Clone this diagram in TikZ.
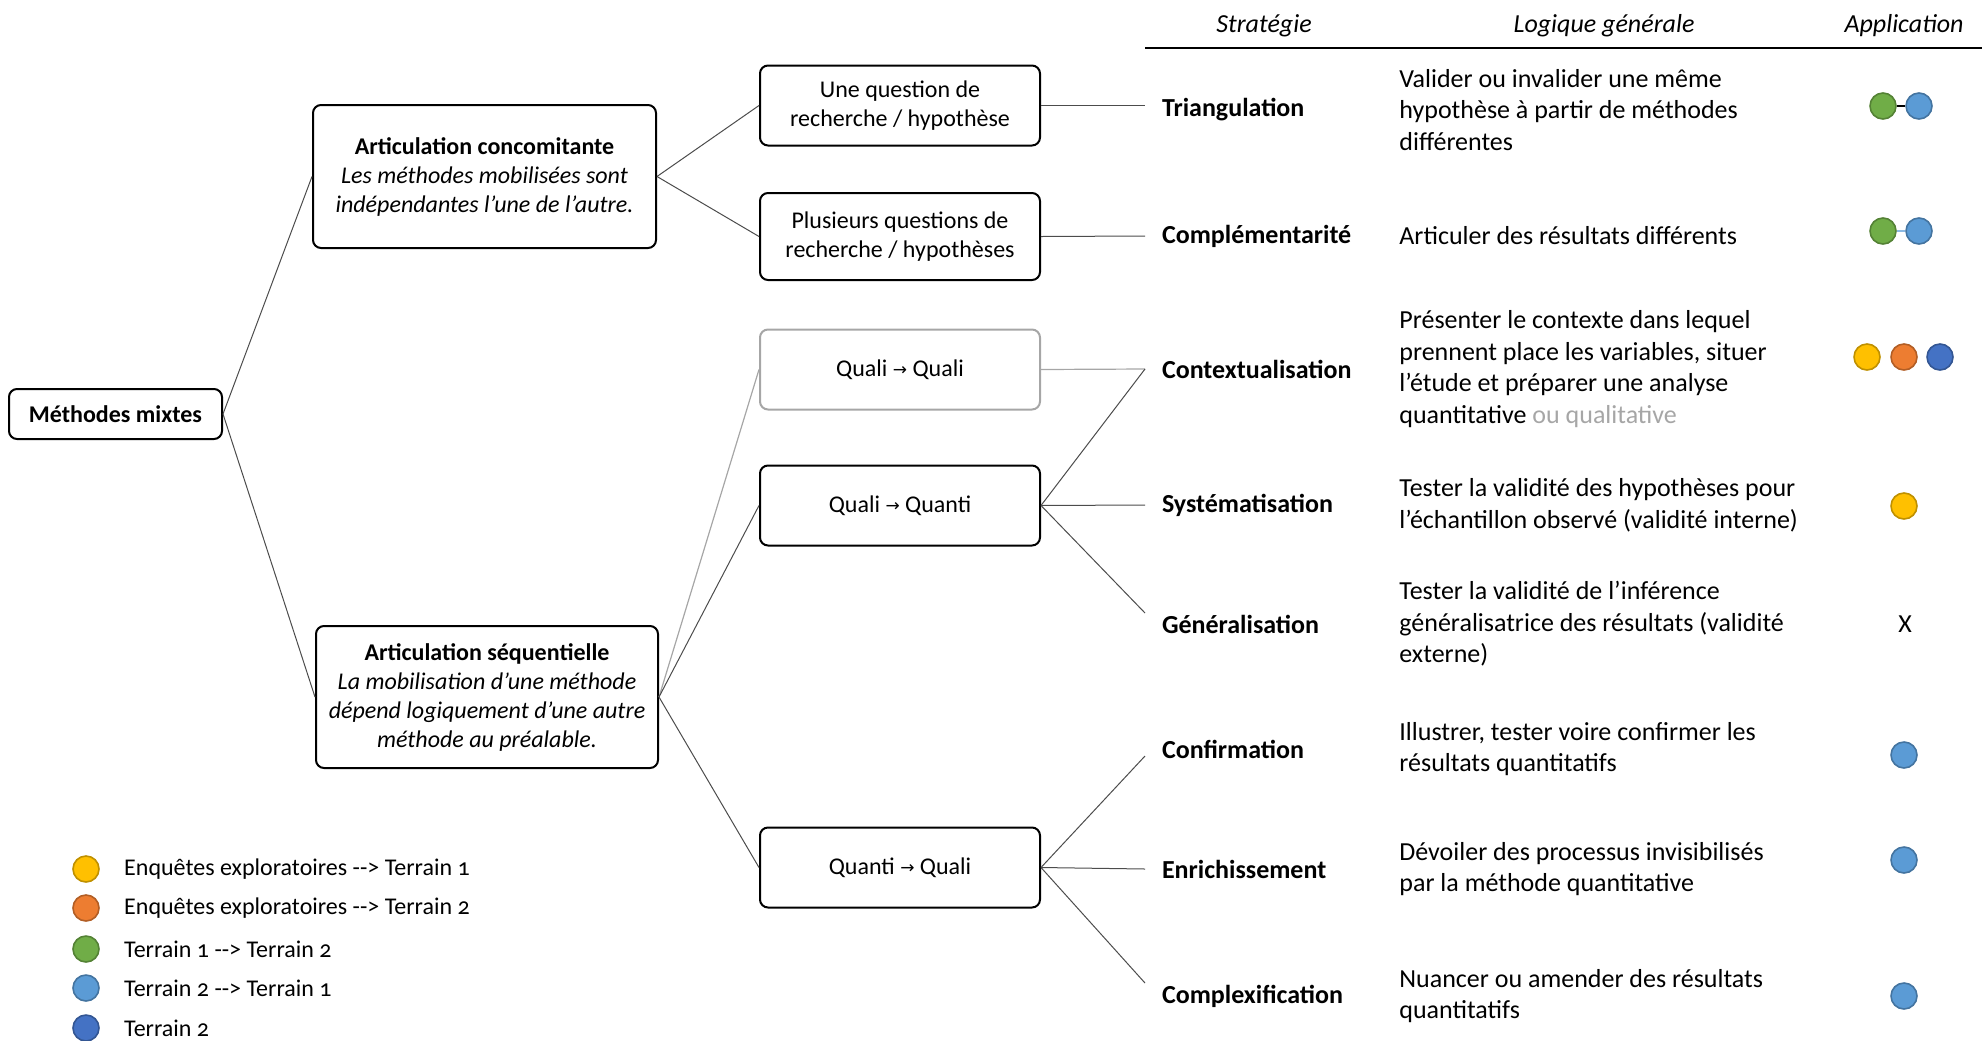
\documentclass[tikz,border=0pt]{standalone}
\usepackage{fontspec}
\setmainfont{Carlito}
\newfontfamily\fleche{DejaVu Sans}
\usetikzlibrary{positioning}

\definecolor{jaune}{HTML}{FFC000}
\definecolor{orange}{HTML}{ED7D31}
\definecolor{vert}{HTML}{70AD47}
\definecolor{bleuclair}{HTML}{5B9BD5}
\definecolor{bleufonce}{HTML}{4472C4}
\definecolor{gris}{HTML}{A6A6A6}

\newcommand{\versfl}{{\fleche\fontsize{8.5}{8.5}\selectfont\raisebox{0.6pt}{→}}}

\begin{document}
\begin{tikzpicture}[x=0.5pt, y=-0.5pt,
    boite/.style={draw, rounded corners=4pt, line width=1pt, align=center,
        minimum width=140pt, minimum height=40pt, inner sep=0pt,
        font=\fontsize{12}{14.5}\selectfont},
    strat/.style={anchor=west, inner xsep=8.5pt, inner ysep=0pt, outer sep=0pt,
        font=\fontsize{13}{15.8}\selectfont\bfseries},
    desc/.style={anchor=west, align=left, inner sep=0pt,
        font=\fontsize{13}{15.8}\selectfont},
    tete/.style={font=\fontsize{13}{15.8}\selectfont\itshape},
    lien/.style={draw=black!70, line width=0.5pt},
    lienclair/.style={draw=gris, line width=0.6pt},
    pastille/.style={circle, minimum size=13pt, inner sep=0pt, line width=0.8pt},
    legtxt/.style={inner sep=0pt, font=\fontsize{12}{14.5}\selectfont\addfontfeature{Numbers=OldStyle}}]

    \useasboundingbox (0,0) rectangle (1982,1040);

    % arbre
    \node[boite, minimum width=106.5pt, minimum height=25pt, font=\fontsize{12}{14.5}\selectfont\bfseries] (mm) at (115.5,414) {Méthodes mixtes};
    \node[boite, minimum width=171.5pt, minimum height=71.5pt] (conc) at (484.5,176.5)
        {\textbf{Articulation concomitante}\\\textit{Les méthodes mobilisées sont}\\\textit{indépendantes l'une de l'autre.}};
    \node[boite, minimum width=171pt, minimum height=71pt] (seq) at (487,697)
        {\textbf{Articulation séquentielle}\\\textit{La mobilisation d'une méthode}\\\textit{dépend logiquement d'une autre}\\\textit{méthode au préalable.}};

    \node[boite] (q1) at (900,105.5) {Une question de\\recherche / hypothèse};
    \node[boite, minimum height=43.5pt] (q2) at (900,236.5) {Plusieurs questions de\\recherche / hypothèses};
    \node[boite, draw=gris] (qq) at (900,369.5) {Quali \versfl\ Quali};
    \node[boite] (qn) at (900,505.5) {Quali \versfl\ Quanti};
    \node[boite] (nq) at (900,867.5) {Quanti \versfl\ Quali};

    % en-tete du tableau
    \node[tete] (hStrat) at (1264,26) {Stratégie};
    \node[tete] (hLog) at (1604,26) {Logique générale};
    \node[tete] (hApp) at (1904,26) {Application};
    \draw[line width=1pt] (1145,48) -- (1982,48);

    % strategies
    \node[strat] (triang) at (1145,110) {Triangulation};
    \node[strat] (compl) at (1145,236) {Complémentarité};
    \node[strat] (contx) at (1145,369) {Contextualisation};
    \node[strat] (syst) at (1145,505) {Systématisation};
    \node[strat] (gener) at (1145,624) {Généralisation};
    \node[strat] (confi) at (1145,749) {Confirmation};
    \node[strat] (enrich) at (1145,869) {Enrichissement};
    \node[strat] (cplx) at (1145,996) {Complexification};
    \coordinate (genEnd) at (1145,613);
    \coordinate (confEnd) at (1145,756);
    \coordinate (cplxEnd) at (1145,983);

    % logique generale
    \node[desc] (dTri) at (1399,110) {Valider ou invalider une même\\hypothèse à partir de méthodes\\différentes};
    \node[desc] (dComp) at (1399,236) {Articuler des résultats différents};
    \node[desc] (dCont) at (1399,369) {Présenter le contexte dans lequel\\prennent place les variables, situer\\l'étude et préparer une analyse\\quantitative \textcolor{gris}{ou qualitative}};
    \node[desc] (dSys) at (1399,505) {Tester la validité des hypothèses pour\\l'échantillon observé (validité interne)};
    \node[desc] (dGen) at (1399,624) {Tester la validité de l'inférence\\généralisatrice des résultats (validité\\externe)};
    \node[desc] (dConf) at (1399,749) {Illustrer, tester voire confirmer les\\résultats quantitatifs};
    \node[desc] (dEnr) at (1399,869) {Dévoiler des processus invisibilisés\\par la méthode quantitative};
    \node[desc] (dCplx) at (1399,996) {Nuancer ou amender des résultats\\quantitatifs};

    % connecteurs
    \draw[lien] (mm.east) -- (conc.west);
    \draw[lien] (mm.east) -- (seq.west);
    \draw[lien] (conc.east) -- (q1.west);
    \draw[lien] (conc.east) -- (q2.west);
    \draw[lienclair] (seq.east) -- (qq.west);
    \draw[lien] (seq.east) -- (qn.west);
    \draw[lien] (seq.east) -- (nq.west);
    \draw[lien] (q1.east) -- (q1.east -| triang.west);
    \draw[lien] (q2.east) -- (compl.west);
    \draw[lienclair] (qq.east) -- (contx.west);
    \draw[lien] (qn.east) -- (contx.west);
    \draw[lien] (qn.east) -- (syst.west);
    \draw[lien] (qn.east) -- (genEnd);
    \draw[lien] (nq.east) -- (confEnd);
    \draw[lien] (nq.east) -- (enrich.west);
    \draw[lien] (nq.east) -- (cplxEnd);

    % application
    \node[pastille, fill=vert, draw=vert!75!black] (triV) at (1883,106) {};
    \node[pastille, fill=bleuclair, draw=bleuclair!75!black] (triB) at (1919,106) {};
    \draw[line width=0.8pt] (triV) -- (triB);
    \node[pastille, fill=vert, draw=vert!75!black] (compV) at (1883,231) {};
    \node[pastille, fill=bleuclair, draw=bleuclair!75!black] (compB) at (1919,231) {};
    \draw[bleuclair!70!white, line width=0.8pt] (compV) -- (compB);
    \node[pastille, fill=jaune, draw=jaune!75!black] (contJ) at (1867,357) {};
    \node[pastille, fill=orange, draw=orange!75!black] (contO) at (1904,357) {};
    \node[pastille, fill=bleufonce, draw=bleufonce!75!black] (contB) at (1940,357) {};
    \node[pastille, fill=jaune, draw=jaune!75!black] (sysJ) at (1904,506) {};
    \node[font=\fontsize{13}{15.8}\selectfont] (genX) at (1905,624) {X};
    \node[pastille, fill=bleuclair, draw=bleuclair!75!black] (confB) at (1904,755) {};
    \node[pastille, fill=bleuclair, draw=bleuclair!75!black] (enrB) at (1904,860) {};
    \node[pastille, fill=bleuclair, draw=bleuclair!75!black] (cplxB) at (1904,996) {};

    % legende
    \foreach \yy/\col/\txt in {869/jaune/{Enquêtes exploratoires -{}-> Terrain 1},
                              908/orange/{Enquêtes exploratoires -{}-> Terrain 2},
                              949/vert/{Terrain 1 -{}-> Terrain 2},
                              988/bleuclair/{Terrain 2 -{}-> Terrain 1},
                              1028/bleufonce/{Terrain 2}}{
        \node[pastille, fill=\col, draw=\col!75!black] (leg\yy) at (86,\yy) {};
        \node[legtxt, right=12pt of leg\yy] (legt\yy) {\txt};
    }

\end{tikzpicture}
\end{document}
